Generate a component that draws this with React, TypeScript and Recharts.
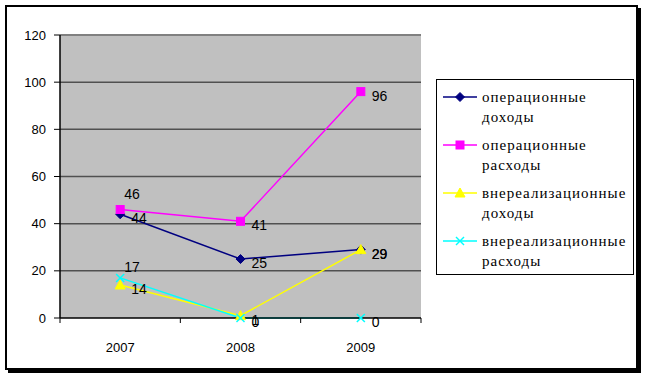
import React from "react";
import {
  LineChart,
  Line,
  XAxis,
  YAxis,
  CartesianGrid,
  ReferenceLine,
} from "recharts";

const YEARS = ["2007", "2008", "2009"];
const OP_INCOME = [44, 25, 29];
const OP_EXPENSE = [46, 41, 96];
const NONOP_INCOME = [14, 1, 29];
const NONOP_EXPENSE = [17, 0, 0];
const Y_TICKS = [0, 20, 40, 60, 80, 100, 120];

// above: indices whose value label sits above the point instead of to the right
const SERIES = [
  { key: "opIncome", name: ["операционные", "доходы"], color: "#000080", shape: "diamond", values: OP_INCOME, above: [] as number[], aboveDy: 0 },
  { key: "opExpense", name: ["операционные", "расходы"], color: "#FF00FF", shape: "square", values: OP_EXPENSE, above: [0], aboveDy: -16 },
  { key: "nonopIncome", name: ["внереализационные", "доходы"], color: "#FFFF00", shape: "triangle", values: NONOP_INCOME, above: [] as number[], aboveDy: 0 },
  { key: "nonopExpense", name: ["внереализационные", "расходы"], color: "#00FFFF", shape: "cross", values: NONOP_EXPENSE, above: [0], aboveDy: -11 },
];

const data = YEARS.map((year, i) => {
  const row: Record<string, string | number> = { year };
  SERIES.forEach((s) => (row[s.key] = s.values[i]));
  return row;
});

const W = 646;
const H = 378;
const MARGIN = { top: 35, right: 225, bottom: 20, left: 8 };
const Y_AXIS_W = 52;
const HALF_BAND = (W - MARGIN.left - MARGIN.right - Y_AXIS_W) / YEARS.length / 2;
const AXIS_FONT = "'Liberation Sans', Arial, sans-serif";

function Marker({ shape, color, cx, cy }: { shape: string; color: string; cx: number; cy: number }) {
  if (shape === "diamond") {
    return <polygon points={`${cx},${cy - 4.5} ${cx + 4.5},${cy} ${cx},${cy + 4.5} ${cx - 4.5},${cy}`} fill={color} stroke={color} />;
  }
  if (shape === "square") {
    return <rect x={cx - 4} y={cy - 4} width={8} height={8} fill={color} stroke={color} />;
  }
  if (shape === "triangle") {
    return <polygon points={`${cx},${cy - 5} ${cx + 5},${cy + 4} ${cx - 5},${cy + 4}`} fill={color} stroke={color} />;
  }
  return (
    <g stroke={color} strokeWidth={1.5}>
      <line x1={cx - 4} y1={cy - 4} x2={cx + 4} y2={cy + 4} />
      <line x1={cx - 4} y1={cy + 4} x2={cx + 4} y2={cy - 4} />
    </g>
  );
}

function XTick(props: any) {
  const { x, y, payload, index } = props;
  return (
    <g>
      <line x1={x - HALF_BAND} y1={y} x2={x - HALF_BAND} y2={y + 5} stroke="#000" />
      {index === YEARS.length - 1 && <line x1={x + HALF_BAND} y1={y} x2={x + HALF_BAND} y2={y + 5} stroke="#000" />}
      <text x={x} y={y + 34} textAnchor="middle" fontSize={13} fontFamily={AXIS_FONT} fill="#000">
        {payload.value}
      </text>
    </g>
  );
}

function makeLabel(above: number[], aboveDy: number) {
  return (props: any) => {
    const { x, y, value, index } = props;
    const isAbove = above.includes(index);
    return (
      <text
        key={`lbl-${index}`}
        x={isAbove ? x + 4 : x + 11}
        y={isAbove ? y + aboveDy : y + 4}
        dominantBaseline="central"
        fontSize={14}
        fontFamily={AXIS_FONT}
        fill="#000"
      >
        {value}
      </text>
    );
  };
}

function LegendBox() {
  return (
    <div
      style={{
        position: "absolute",
        left: 436,
        top: 79,
        boxSizing: "border-box",
        width: 198,
        height: 196,
        border: "1px solid #000",
        background: "#fff",
        padding: "7px 0 0 6px",
        fontFamily: "'Liberation Serif', 'Times New Roman', serif",
        fontSize: 15,
        letterSpacing: 1,
        color: "#000",
      }}
    >
      {SERIES.map((s) => (
        <div key={s.key} style={{ display: "flex", marginBottom: 8, lineHeight: "20px" }}>
          <svg width={34} height={20} style={{ flex: "none" }}>
            <line x1={0} y1={10} x2={34} y2={10} stroke={s.color} strokeWidth={1.5} />
            <Marker shape={s.shape} color={s.color} cx={17} cy={10} />
          </svg>
          <div style={{ marginLeft: 5, whiteSpace: "nowrap" }}>
            <div>{s.name[0]}</div>
            <div>{s.name[1]}</div>
          </div>
        </div>
      ))}
    </div>
  );
}

export default function App() {
  return (
    <div style={{ position: "absolute", left: 0, top: 0, width: W, height: H, background: "#fff" }}>
      <div
        style={{
          position: "absolute",
          left: 5,
          top: 5,
          width: 629,
          height: 361,
          border: "2px solid #000",
          boxShadow: "3px 3px 0 #000",
          background: "#fff",
        }}
      />
      <div style={{ position: "absolute", left: 0, top: 0 }}>
        <LineChart width={W} height={H} data={data} margin={MARGIN}>
          <CartesianGrid
            fill="#C0C0C0"
            vertical={false}
            stroke="#505050"
            strokeWidth={1.5}
            horizontalValues={[20, 40, 60, 80, 100]}
          />
          <ReferenceLine y={120} stroke="#808080" strokeWidth={2} />
          <XAxis
            dataKey="year"
            scale="band"
            height={40}
            axisLine={{ stroke: "#000", strokeWidth: 1.5 }}
            tickLine={false}
            tickSize={0}
            tickMargin={0}
            tick={<XTick />}
            interval={0}
          />
          <YAxis
            width={Y_AXIS_W}
            domain={[0, 120]}
            ticks={Y_TICKS}
            axisLine={{ stroke: "#000", strokeWidth: 1.5 }}
            tickLine={{ stroke: "#000" }}
            tickSize={6}
            tickMargin={8}
            tick={{ fontSize: 13, fontFamily: AXIS_FONT, fill: "#000" }}
          />
          <YAxis
            yAxisId="frame"
            orientation="right"
            width={0}
            domain={[0, 120]}
            axisLine={{ stroke: "#808080", strokeWidth: 2 }}
            tick={false}
            tickLine={false}
          />
          {SERIES.map((s) => (
            <Line
              key={s.key}
              dataKey={s.key}
              name={s.name.join(" ")}
              stroke={s.color}
              strokeWidth={1.5}
              isAnimationActive={false}
              dot={(p: any) => <Marker key={`${s.key}-${p.index}`} shape={s.shape} color={s.color} cx={p.cx} cy={p.cy} />}
              activeDot={false}
              label={makeLabel(s.above, s.aboveDy)}
            />
          ))}
        </LineChart>
      </div>
      <LegendBox />
    </div>
  );
}
